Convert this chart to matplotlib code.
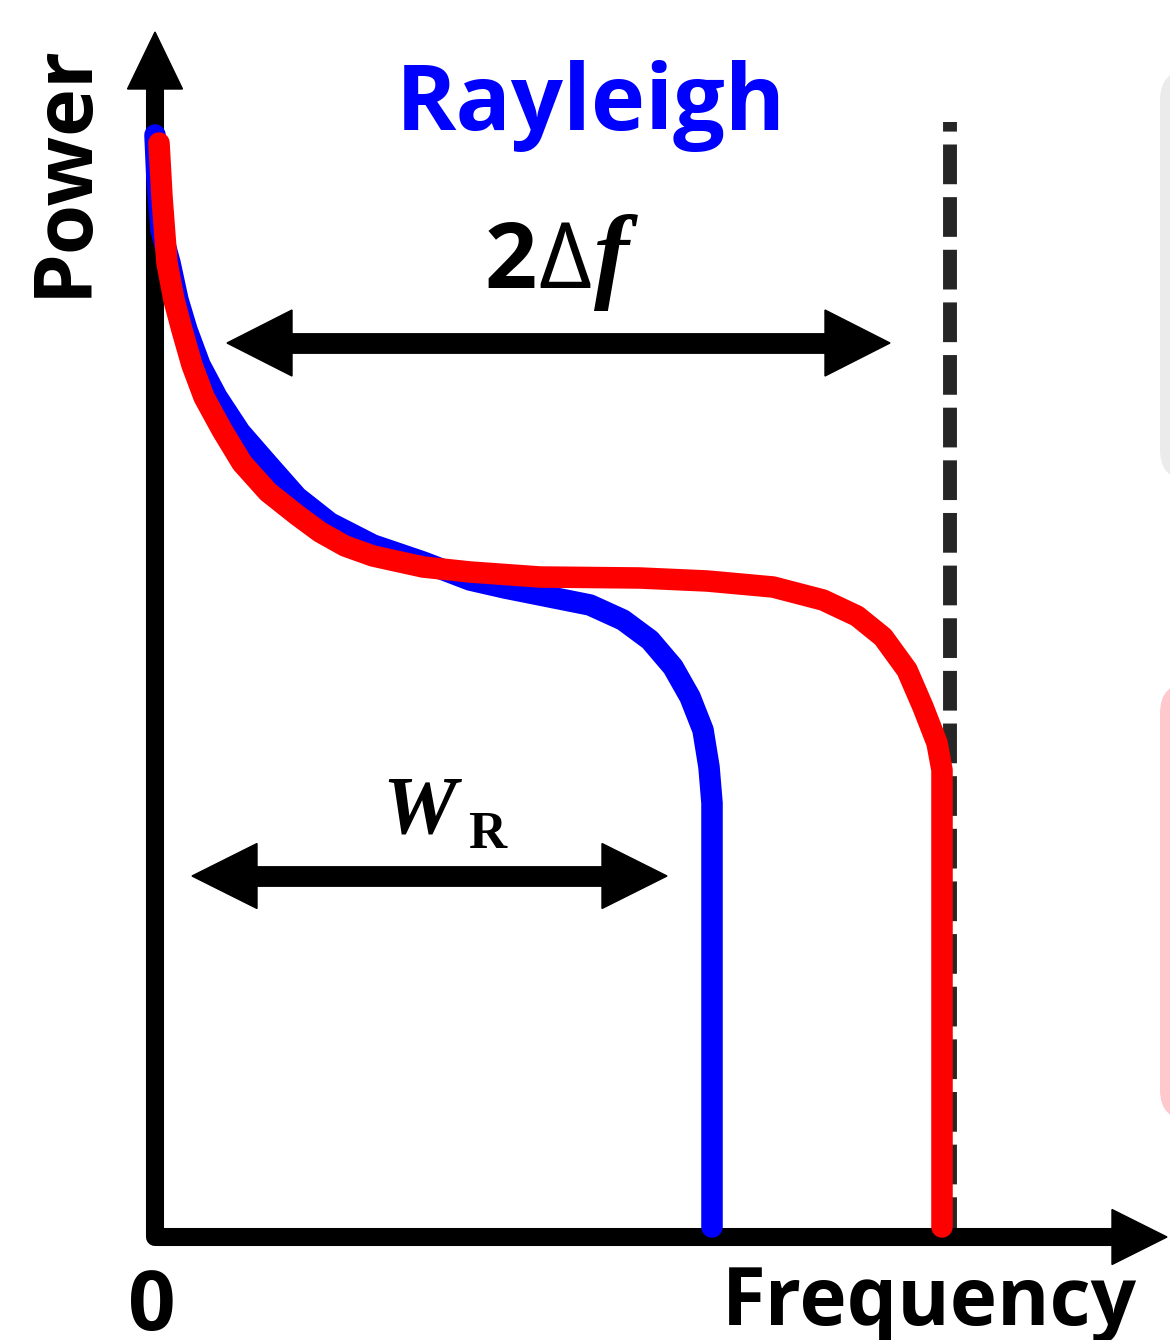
import numpy as np
import matplotlib.pyplot as plt
from matplotlib.patches import Polygon, FancyBboxPatch

# curve data (frequency, power) in arbitrary units
blue_f = [0.0, 0.2, 0.6, 1.5, 2.3, 3.2, 4.5, 6.2, 8.5, 11.2, 14.2, 17.5, 21.8, 26.8,
          31.5, 35.0, 38.5, 43.5, 46.8, 49.5, 51.8, 53.5, 54.8, 55.4, 55.7, 55.7]
blue_p = [110.2, 105.7, 100.7, 97.4, 93.7, 90.7, 87.2, 84.0, 80.5, 77.4, 74.0, 71.4, 69.2, 67.5,
          65.7, 64.9, 64.2, 63.2, 61.7, 59.7, 57.0, 54.0, 50.7, 47.0, 43.4, 1.0]

red_f = [0.4, 0.7, 1.2, 1.9, 2.7, 3.7, 4.9, 6.7, 8.7, 11.3, 14.2, 16.5, 19.0, 21.8,
         26.8, 31.5, 38.5, 48.5, 55.2, 61.8, 66.8, 70.2, 72.8, 75.2, 76.8, 78.2, 78.7, 78.7]
red_p = [109.4, 104.0, 97.4, 93.7, 90.7, 87.2, 84.0, 80.7, 77.4, 74.5, 72.2, 70.5, 69.1, 68.1,
         67.0, 66.5, 66.0, 65.9, 65.6, 65.0, 63.7, 62.1, 60.0, 56.7, 53.0, 49.4, 46.7, 1.0]

cutoff_f = 79.5
cutoff_top = 111.5

fig = plt.figure(figsize=(11.7, 13.4), dpi=100)
ax = fig.add_axes([0, 0, 1, 1])
ax.set_xlim(-15.5, 101.5)
ax.set_ylim(-10.3, 123.7)
ax.axis('off')

# boxes cut off at the right edge
ax.add_patch(FancyBboxPatch((100.5, 75.7), 15, 41.0, boxstyle='round,pad=0,rounding_size=3',
                            fc='#ebebeb', ec='none', zorder=0))
ax.add_patch(FancyBboxPatch((100.5, 11.7), 15, 43.7, boxstyle='round,pad=0,rounding_size=3',
                            fc='#ffc8cc', ec='none', zorder=0))

# axes with arrows
ax.plot([0, 0, 95.8], [115, 0, 0], color='black', lw=13, solid_joinstyle='round',
        solid_capstyle='butt', zorder=3)
ax.add_patch(Polygon([[0, 120.5], [-2.75, 114.8], [2.75, 114.8]], color='black', zorder=3))
ax.add_patch(Polygon([[101.2, 0], [95.7, 2.75], [95.7, -2.75]], color='black', zorder=3))

# cutoff line
ax.plot([cutoff_f, cutoff_f], [0, cutoff_top], color='#262626', lw=10,
        linestyle=(0, (2.86, 0.93)), dash_capstyle='butt', zorder=2)

ax.plot(blue_f, blue_p, color='#0000ff', lw=15.5, solid_capstyle='round',
        solid_joinstyle='round', zorder=4)
ax.plot(red_f, red_p, color='#ff0000', lw=15.5, solid_capstyle='round',
        solid_joinstyle='round', zorder=5)


def double_arrow(y, x0, x1, head=6.5, half=3.3):
    ax.plot([x0 + head - 0.5, x1 - head + 0.5], [y, y], color='black', lw=15,
            solid_capstyle='butt', zorder=3)
    ax.add_patch(Polygon([[x0, y], [x0 + head, y + half], [x0 + head, y - half]],
                         color='black', zorder=3))
    ax.add_patch(Polygon([[x1, y], [x1 - head, y + half], [x1 - head, y - half]],
                         color='black', zorder=3))


double_arrow(89.4, 7.2, 73.5)
double_arrow(36.1, 3.7, 51.2, half=3.25)

# labels
ax.text(43.6, 110.7, 'Rayleigh', color='#0000ff', fontsize=66, fontweight='bold',
        family='Open Sans', ha='center', va='baseline')
ax.text(-6.9, 106.7, 'Power', color='black', fontsize=58.5, fontweight='bold',
        family='Open Sans', ha='center', va='baseline', rotation=90, rotation_mode='anchor')
ax.text(77.4, -8.8, 'Frequency', color='black', fontsize=57.5, fontweight='bold',
        family='Open Sans', ha='center', va='baseline')
ax.text(-0.3, -9.3, '0', color='black', fontsize=60, fontweight='bold',
        family='Open Sans', ha='center', va='baseline')

ax.text(33.0, 94.9, '2', color='black', fontsize=66, fontweight='bold',
        family='Open Sans', ha='left', va='baseline')
ax.text(38.3, 94.9, 'Δ', color='black', fontsize=66,
        family='Open Sans', ha='left', va='baseline')
ax.text(43.9, 94.9, 'f', color='black', fontsize=76, style='italic', fontweight='bold',
        family='Liberation Serif', ha='left', va='baseline')

ax.text(22.7, 40.5, 'W', color='black', fontsize=60, fontweight='bold', style='italic',
        family='Liberation Serif', ha='left', va='baseline')
ax.text(31.3, 38.9, 'R', color='black', fontsize=38, fontweight='bold',
        family='Liberation Serif', ha='left', va='baseline')

fig.savefig('out.png', dpi=100)
